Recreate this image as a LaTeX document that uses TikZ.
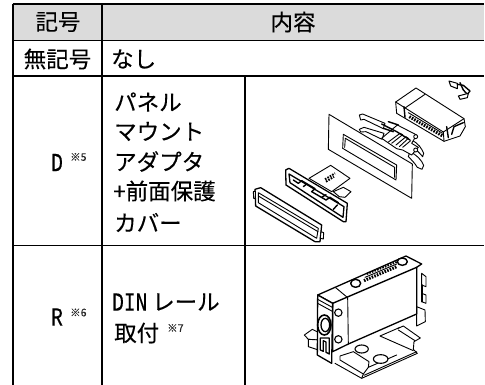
\documentclass[tikz,border=0pt]{standalone}
\usepackage{fontspec}
\setmainfont[FakeBold=0.2]{Noto Sans CJK JP}
\newfontfamily\monolatin[FakeStretch=0.75,FakeBold=0.3]{Liberation Mono}
\tikzset{
  rule/.style={draw=black,line width=1.6pt},
  thinrule/.style={draw=black,line width=1.2pt},
  cell/.style={inner sep=0pt,font=\fontsize{22.5}{24}\selectfont,text=black},
  lat/.style={inner sep=0pt,font=\fontsize{26}{28}\selectfont\monolatin,text=black},
  note/.style={inner sep=0pt,font=\fontsize{10.5}{11}\selectfont,text=black!85},
  part/.style={draw=black,fill=white,line width=.9pt,line join=round},
  wire/.style={draw=black,line width=.9pt,line join=round,line cap=round},
  heavy/.style={draw=black,line width=1.4pt,line join=round,line cap=round},
  dots/.style={draw=black,line width=2pt,dash pattern=on 1.6pt off 1.2pt}
}
\begin{document}
\begin{tikzpicture}[x=1pt,y=-1pt]
\useasboundingbox (0,0) rectangle (485,385);
\fill[white] (0,0) rectangle (485,385);
% header
\fill[black!14] (12.5,4) rectangle (484,40);
% grid
\coordinate (tl) at (12.5,4.5); \coordinate (tr) at (484,4.5);
\coordinate (hl) at (12.5,40.5); \coordinate (hr) at (484,40.5);
\coordinate (nl) at (12.5,76); \coordinate (nr) at (484,76);
\coordinate (dl) at (12.5,245.5); \coordinate (dr) at (484,245.5);
\coordinate (bl) at (12.5,385); \coordinate (am) at (102,4.5); \coordinate (bm) at (102,385);
\coordinate (cm) at (245,76); \coordinate (cb) at (245,385);
\draw[rule,line width=2pt] (tl) -- (tr);
\draw[rule] (hl) -- (hr);
\draw[rule] (nl) -- (nr);
\draw[thinrule] (dl) -- (dr);
\draw[rule,line width=2pt] (tl) -- (bl);
\draw[thinrule,line width=1.5pt] (am) -- (bm);
\draw[thinrule] (cm) -- (cb);
% text
\node[cell] (h1) at (58,22) {記号};
\node[cell] (h2) at (293,22) {内容};
\node[cell] (n1) at (57.5,59) {無記号};
\node[cell,anchor=west] (n2) at (111,59) {なし};
\node[lat,anchor=west] (d1) at (51,162.5) {D};
\node[note,anchor=west] (d1n) at (70,157) {※5};
\node[cell,anchor=west] (d2) at (114,102) {パネル};
\node[cell,anchor=west] (d3) at (114,131.5) {マウント};
\node[cell,anchor=west] (d4) at (114,161.5) {アダプタ};
\node[cell,anchor=west] (d5) at (113,191) {+前面保護};
\node[cell,anchor=west] (d6) at (114,222.5) {カバー};
\node[lat,anchor=west] (r1) at (51,317) {R};
\node[note,anchor=west] (r1n) at (70,312.5) {※6};
\node[lat,anchor=west] (r2) at (112,302) {DIN};
\node[cell,anchor=west] (r3) at (152,302) {レール};
\node[cell,anchor=west] (r4) at (114,333) {取付};
\node[note,anchor=west] (r4n) at (167,328) {※7};
% exploded panel-mount figure
\begin{scope}[shift={(240,90)},scale=1/3]
 \path[part] (267,73) -- (517,222) -- (515,325) -- (265,178) -- cycle;
 \path[part] (310,133) -- (470,225) -- (468,270) -- (308,175) -- cycle;
 \draw[wire] (316,145) -- (464,232) -- (464,262);
 \draw[wire] (316,145) -- (314,172);
 % bracket
 \path[part] (358,75) -- (368,72) -- (435,100) -- (430,116) -- (372,88) -- (362,90) -- cycle;
 \path[part] (358,118) -- (372,112) -- (432,130) -- (426,148) -- (378,125) -- (362,126) -- cycle;
 \path[part] (515,150) .. controls (535,160) and (545,175) .. (551,190) -- (548,200) .. controls (540,190) and (525,175) .. (510,165) -- cycle;
 \path[part] (510,185) .. controls (530,195) and (545,210) .. (551,226) -- (546,238) -- (532,232) .. controls (525,220) and (515,210) .. (505,200) -- cycle;
 \path[part] (425,145) -- (472,105) -- (530,135) -- (515,160) -- (535,172) -- (515,195) -- (488,180) -- (470,176) -- cycle;
 \draw[wire] (445,156) -- (480,130) -- (488,134) -- (455,160);
 \draw[wire] (468,165) -- (498,140) -- (505,145) -- (478,170);
 \draw[wire] (488,172) -- (512,152);
 \draw[heavy] (425,102) -- (470,125) -- (510,150);
 \draw[heavy] (430,115) -- (460,125);
 \draw[heavy] (445,95) -- (475,105);
 \draw[part] (527,140) circle (6);
 \draw[part] (527,180) circle (6);
 % frame with tabs
 \path[part] (207,265) -- (272,226) -- (330,265) -- (275,305) -- cycle;
 \path[part] (280,305) -- (310,292) -- (333,305) -- (315,322) -- (298,320) -- cycle;
 \draw[dots] (255,268) -- (285,250);
 \draw[dots] (258,275) -- (282,260);
 \path[part,line width=1.3pt] (137,240) -- (147,235) -- (322,340) -- (318,395) -- (310,395) -- (138,285) -- cycle;
 \path[part,line width=1.3pt] (147,252) -- (312,350) -- (309,382) -- (150,278) -- cycle;
 \draw[heavy] (160,270) -- (175,280) -- (185,272) -- (225,296) -- (215,305) -- (258,330) -- (270,322) -- (295,338);
 \draw[heavy] (190,290) -- (200,282);
 \draw[heavy] (245,322) -- (258,314);
 \draw[heavy] (280,358) -- (292,345);
 % front cover
 \path[part,line width=1.3pt] (45,298) -- (62,293) -- (245,405) -- (240,455) -- (225,455) -- (47,348) -- cycle;
 \path[part] (55,308) -- (235,415) -- (230,445) -- (55,338) -- cycle;
 \draw[wire] (55,318) -- (234,425);
 \path[part] (40,305) -- (46,303) -- (46,325) -- (41,325) -- cycle;
 \path[part] (243,425) -- (251,428) -- (250,447) -- (241,445) -- cycle;
\end{scope}
% module and clip
\begin{scope}[shift={(380,76)},scale=1/3]
 \path[part] (47,78) -- (108,36) -- (252,128) -- (256,152) -- (240,180) -- (192,196) -- (50,112) -- cycle;
 \draw[wire] (47,78) -- (190,168) -- (252,128);
 \draw[wire] (190,168) -- (192,196);
 \draw[wire] (75,96) -- (135,55);
 \draw[heavy] (72,92) -- (75,124);
 \draw[dots,line width=3pt] (88,122) -- (188,180);
 \draw[wire] (85,110) -- (188,172);
 \draw[heavy] (215,175) -- (222,152) -- (250,140);
 \draw[heavy] (200,152) -- (205,185);
 \path[part,line width=1pt] (207,15) -- (232,22) -- (232,38) -- (212,30) -- cycle;
 \draw[heavy] (232,25) -- (250,28) -- (270,45) -- (262,55);
 \draw[heavy] (240,20) -- (250,42) -- (262,55);
 \path[part,line width=1pt] (235,60) -- (265,52) -- (262,65) -- (240,70) -- cycle;
\end{scope}
% DIN rail figure
\begin{scope}[shift={(240,250)},scale=1/3]
 \path[part] (193,255) -- (217,238) -- (250,255) -- (240,270) -- (205,268) -- cycle;
 \path[part] (205,268) -- (205,290) -- (235,300) -- (240,270) -- cycle;
 \draw[wire] (285,340) -- (365,385) -- (532,310) -- (520,298) -- (522,275) -- (541,264) -- (490,228) -- (472,236);
 \draw[wire] (475,240) -- (525,272);
 \draw[wire] (420,258) -- (480,232);
 \draw[wire] (420,258) -- (520,302);
 \draw[wire] (300,318) -- (340,305) -- (387,335) -- (385,352) -- (370,372) -- (300,330) -- (300,318);
 \draw[wire] (370,372) -- (365,385);
 \draw[wire] (385,352) -- (470,315);
 \draw[wire] (372,376) -- (530,305);
 \draw[part,line width=1.1pt] (365,297) ellipse (20 and 12);
 \draw[part,line width=1.1pt] (422,327) ellipse (22 and 13);
 % body
 \path[part] (530,170) -- (555,180) -- (556,215) -- (530,228) -- cycle;
 \path[part] (545,70) -- (558,80) -- (558,110) -- (545,105) -- cycle;
 \path[part] (545,130) -- (558,135) -- (558,160) -- (545,155) -- cycle;
 \draw[heavy] (546,105) -- (546,155);
 \path[part,line width=1.3pt] (233,135) -- (498,18) -- (545,42) -- (530,52) -- (530,192) -- (325,282) -- (278,305) -- (278,160) -- cycle;
 \draw[heavy] (278,160) -- (530,52);
 \draw[wire] (323,143) -- (325,282);
 \draw[wire] (287,113) -- (323,143);
 \draw[part,line width=1.1pt] (295,188) circle (11);
 \draw[part,line width=1.1pt] (295,268) circle (11);
 \path[part,line width=1.3pt] (233,135) -- (278,160) -- (275,340) -- (232,315) -- cycle;
 \draw[wire] (233,148) -- (277,172);
 \draw[wire] (233,160) -- (277,184);
 \draw[part,line width=1.6pt] (253,225) ellipse (20 and 30);
 \draw[part,line width=1.3pt] (256,225) ellipse (13 and 20);
 \path[part,line width=1.3pt] (241,300) -- (241,264) -- (268,264) -- (268,312) -- (258,307) -- (258,276) -- (250,272) -- (250,304) -- cycle;
 \draw[heavy,fill=white] (347,100) ellipse (15 and 12);
 \draw[heavy,fill=white] (487,35) ellipse (15 and 11);
 \draw[dots,line width=3pt] (372,92) -- (470,50);
 \draw[dots,line width=2pt] (380,72) -- (470,36);
 \draw[wire] (375,82) -- (470,42);
\end{scope}
\end{tikzpicture}
\end{document}
